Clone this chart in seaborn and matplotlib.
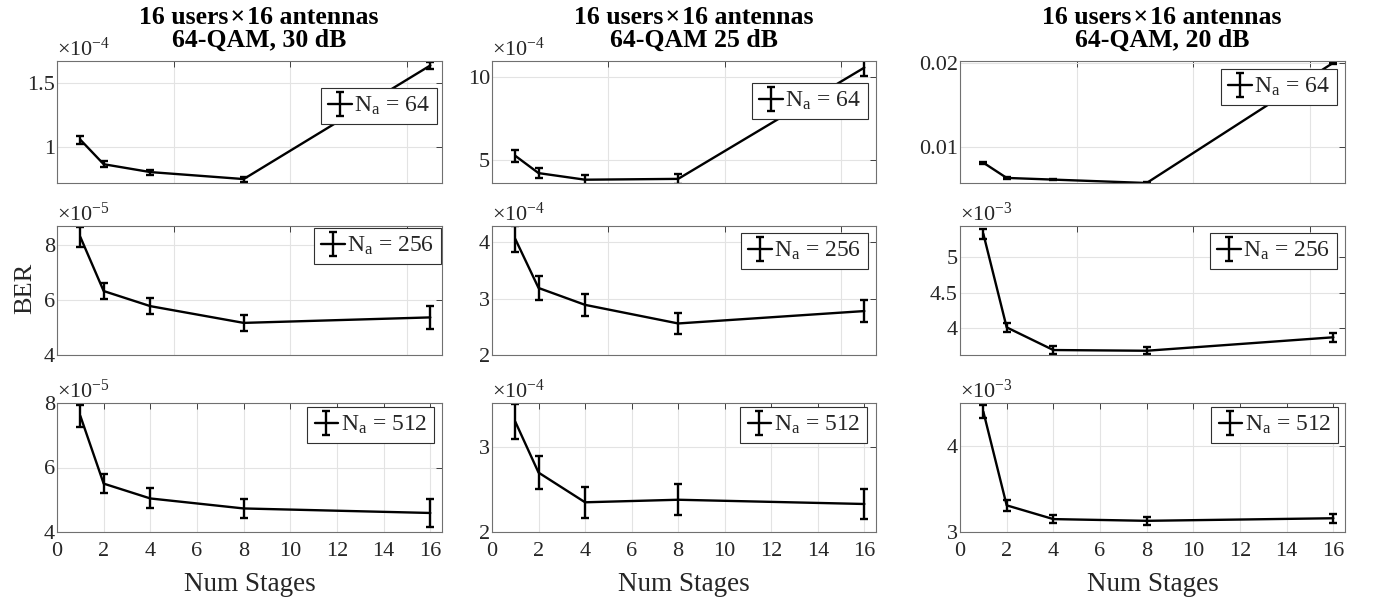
import numpy as np
import pandas as pd
import matplotlib
matplotlib.use("Agg")
import matplotlib.pyplot as plt
import seaborn as sns
from matplotlib.legend_handler import HandlerTuple

# ---------------- data ----------------
stages = [1, 2, 4, 8, 16]
antennas = [64, 256, 512]
col_titles = [
    "16 users\u200a\u00d7\u200a16 antennas\n64-QAM, 30 dB",
    "16 users\u200a\u00d7\u200a16 antennas\n64-QAM 25 dB",
    "16 users\u200a\u00d7\u200a16 antennas\n64-QAM, 20 dB",
]

# BER mantissas (value = mantissa * 10**exponent), rows: Na = 64, 256, 512
ber_30db_na64 = [1.055, 0.862, 0.800, 0.745, 1.640]
err_30db_na64 = [0.030, 0.025, 0.020, 0.020, 0.030]
ber_30db_na256 = [8.30, 6.33, 5.78, 5.17, 5.37]
err_30db_na256 = [0.35, 0.28, 0.28, 0.28, 0.43]
ber_30db_na512 = [7.60, 5.50, 5.04, 4.73, 4.59]
err_30db_na512 = [0.34, 0.30, 0.31, 0.30, 0.44]
exp_30db = [-4, -5, -5]

ber_25db_na64 = [5.25, 4.20, 3.80, 3.85, 10.60]
err_25db_na64 = [0.35, 0.30, 0.30, 0.30, 0.50]
ber_25db_na256 = [4.06, 3.19, 2.89, 2.56, 2.78]
err_25db_na256 = [0.23, 0.22, 0.20, 0.19, 0.20]
ber_25db_na512 = [3.30, 2.70, 2.35, 2.38, 2.33]
err_25db_na512 = [0.21, 0.19, 0.18, 0.18, 0.18]
exp_25db = [-4, -4, -4]

ber_20db_na64 = [0.0082, 0.0064, 0.0062, 0.0058, 0.0200]
err_20db_na64 = [0.0001, 0.0001, 0.0001, 0.0001, 0.0001]
ber_20db_na256 = [5.33, 4.01, 3.69, 3.68, 3.87]
err_20db_na256 = [0.07, 0.06, 0.05, 0.05, 0.06]
ber_20db_na512 = [4.40, 3.31, 3.15, 3.13, 3.16]
err_20db_na512 = [0.08, 0.06, 0.05, 0.05, 0.05]
exp_20db = [0, -3, -3]

ber = [[ber_30db_na64, ber_25db_na64, ber_20db_na64],
       [ber_30db_na256, ber_25db_na256, ber_20db_na256],
       [ber_30db_na512, ber_25db_na512, ber_20db_na512]]
err = [[err_30db_na64, err_25db_na64, err_20db_na64],
       [err_30db_na256, err_25db_na256, err_20db_na256],
       [err_30db_na512, err_25db_na512, err_20db_na512]]
exps = [exp_30db, exp_25db, exp_20db]  # per column, per row

ytick_vals = [[[1, 1.5], [5, 10], [0.01, 0.02]],
              [[4, 6, 8], [2, 3, 4], [4, 4.5, 5]],
              [[4, 6, 8], [2, 3], [3, 4]]]
ylims = [[(0.714, 1.675), (3.6, 11.0), (0.0058, 0.0202)],
         [(4.0, 8.7), (2.0, 4.29), (3.62, 5.44)],
         [(4.0, 8.0), (2.0, 3.52), (3.0, 4.5)]]

# ---------------- layout ----------------
W, H = 1380, 602
col_px = [(57, 442), (492, 876), (960, 1345)]
row_px = [(61, 183), (226, 355), (403, 532)]
legend_px = [[(437, 88), (868, 83), (1337, 69)],
             [(441, 228), (868, 233), (1337, 233)],
             [(434, 407), (867, 407), (1338, 407)]]

sns.set_theme(style="whitegrid")
plt.rcParams["font.family"] = ["Liberation Serif", "DejaVu Serif"]
plt.rcParams["mathtext.fontset"] = "custom"
plt.rcParams["mathtext.rm"] = "Liberation Serif"
plt.rcParams["mathtext.it"] = "Liberation Serif:italic"
plt.rcParams["mathtext.bf"] = "Liberation Serif:bold"

fig = plt.figure(figsize=(W / 100, H / 100), dpi=100)
fig.patch.set_facecolor("white")

TXT = "#262626"
for r in range(3):
    for c in range(3):
        x0, x1 = col_px[c]
        y0, y1 = row_px[r]
        ax = fig.add_axes([x0 / W, 1 - y1 / H, (x1 - x0) / W, (y1 - y0) / H])
        ax.set_facecolor("white")
        df = pd.DataFrame({"stages": stages, "ber": ber[r][c]})
        sns.lineplot(data=df, x="stages", y="ber", ax=ax, color="black",
                     lw=1.7, legend=False)
        line = ax.lines[0]
        eb = ax.errorbar(stages, ber[r][c], yerr=err[r][c], fmt="none",
                         ecolor="black", elinewidth=1.7, capsize=2.6,
                         capthick=1.7)
        ax.set_xlim(0, 16.5)
        ax.set_ylim(*ylims[r][c])
        ax.set_yticks(ytick_vals[r][c])
        ax.set_yticklabels(["%g" % v for v in ytick_vals[r][c]])
        if r == 2:
            ax.set_xticks(range(0, 17, 2))
            ax.set_xlabel("Num Stages", fontsize=19.5, color=TXT, labelpad=8)
        else:
            ax.set_xticks([0, 5, 10, 15])
            ax.set_xticklabels([])
            ax.set_xlabel("")
        ax.set_ylabel("")
        ax.grid(True, color="#e3e3e3", lw=0.8)
        ax.tick_params(direction="in", length=4, width=0.6, colors=TXT,
                       labelsize=16, top=True, right=True)
        ax.tick_params(axis="x", pad=7)
        ax.tick_params(axis="y", pad=1.5)
        for sp in ax.spines.values():
            sp.set_color("#707070")
            sp.set_linewidth(0.8)
        e = exps[c][r]
        if e != 0:
            ax.text(0.0, 1.0, r"$\times10^{%d}$" % e, transform=ax.transAxes,
                    ha="left", va="bottom", fontsize=16, color=TXT)
        lx, ly = legend_px[r][c]
        leg = ax.legend([(line, eb)], [r"N$_{\mathrm{a}}$ = %d" % antennas[r]],
                        handler_map={tuple: HandlerTuple(ndivide=1)},
                        loc="upper right", bbox_to_anchor=(lx / W, 1 - ly / H),
                        bbox_transform=fig.transFigure, borderaxespad=0,
                        fontsize=17, frameon=True, fancybox=False,
                        framealpha=1, edgecolor="#303030", borderpad=0.3,
                        handlelength=1.0, handletextpad=0.1)
        leg.get_frame().set_linewidth(0.8)
        if r == 0:
            ax.set_title(col_titles[c], fontsize=18.5, fontweight="bold",
                         color="black", pad=10, linespacing=1.03, x=0.525)

fig.text(25 / W, 1 - 288 / H, "BER", rotation=90, ha="center", va="center",
         fontsize=19, color=TXT)

fig.savefig("out.png", dpi=100, facecolor="white")
